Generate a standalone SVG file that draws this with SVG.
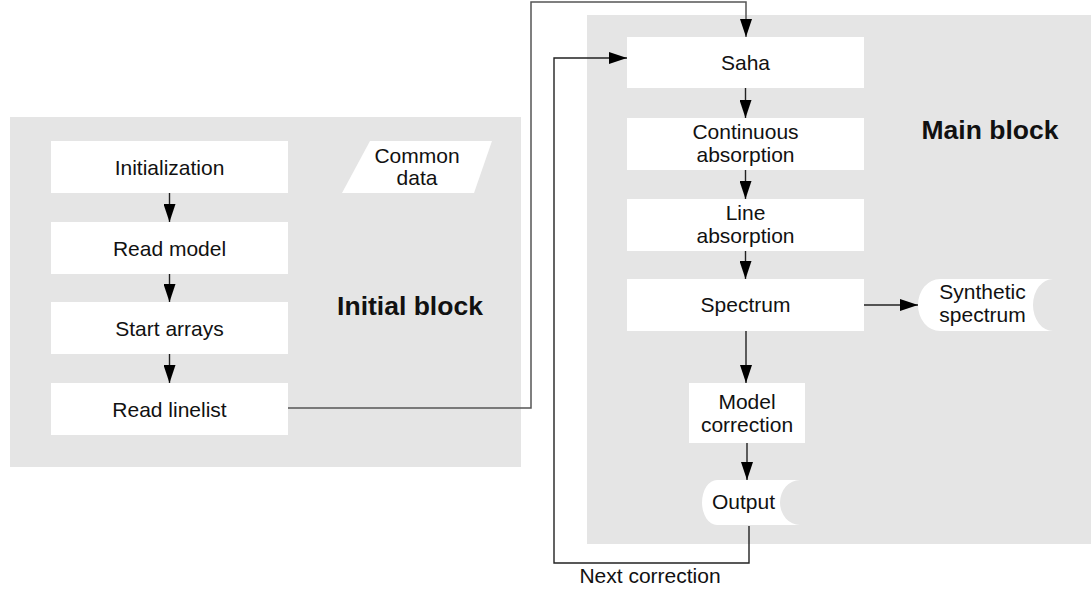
<svg xmlns="http://www.w3.org/2000/svg" width="1091" height="592" viewBox="0 0 1091 592">
<style>
.blk{fill:#e5e5e5;stroke:none}
.box{fill:#ffffff;stroke:none}
.t{font-family:"Liberation Sans",Arial,sans-serif;font-size:21px;fill:#111;text-anchor:middle}
.tb{font-family:"Liberation Sans",Arial,sans-serif;font-size:26.5px;font-weight:bold;fill:#111;text-anchor:middle}
.c{fill:none;stroke:#222;stroke-width:1.4}
.cg{fill:none;stroke:#555;stroke-width:1.5}
</style>
<defs>
<marker id="ah" markerUnits="userSpaceOnUse" markerWidth="18" markerHeight="12" refX="18" refY="6" orient="auto">
<path d="M0,0 L18,6 L0,12 Z" fill="#000"/>
</marker>
</defs>
<g id="initial-block">
<rect class="blk" x="10" y="117" width="511" height="350"/>
<text class="tb" x="410" y="315">Initial block</text>
</g>
<g id="main-block">
<rect class="blk" x="587" y="15" width="504" height="529"/>
<text class="tb" x="990" y="139">Main block</text>
</g>
<g id="connectors">
<path class="cg" d="M288,408 H531 V2 H746 V37" marker-end="url(#ah)"/>
<path class="c" d="M749,526 V563 H554 V58 H627" marker-end="url(#ah)"/>
<path class="c" d="M169.5,193 V222" marker-end="url(#ah)"/>
<path class="c" d="M169.5,274 V302" marker-end="url(#ah)"/>
<path class="c" d="M169.5,354 V383" marker-end="url(#ah)"/>
<path class="c" d="M745.5,88 V118" marker-end="url(#ah)"/>
<path class="c" d="M745.5,170 V199" marker-end="url(#ah)"/>
<path class="c" d="M745.5,251 V279" marker-end="url(#ah)"/>
<path class="c" d="M746,331 V383" marker-end="url(#ah)"/>
<path class="c" d="M747,443 V480" marker-end="url(#ah)"/>
<path class="c" d="M864,305 H918" marker-end="url(#ah)"/>
</g>
<g id="initialization">
<rect class="box" x="51" y="141" width="237" height="52"/>
<text class="t" x="169.5" y="174.5">Initialization</text>
</g>
<g id="read-model">
<rect class="box" x="51" y="222" width="237" height="52"/>
<text class="t" x="169.5" y="255.5">Read model</text>
</g>
<g id="start-arrays">
<rect class="box" x="51" y="302" width="237" height="52"/>
<text class="t" x="169.5" y="335.5">Start arrays</text>
</g>
<g id="read-linelist">
<rect class="box" x="51" y="383" width="237" height="52"/>
<text class="t" x="169.5" y="416.5">Read linelist</text>
</g>
<g id="common-data">
<polygon class="box" points="370,141 492,141 474,193 342,193"/>
<text class="t" x="417" y="163">Common</text>
<text class="t" x="417" y="185">data</text>
</g>
<g id="saha">
<rect class="box" x="627" y="37" width="237" height="51"/>
<text class="t" x="745.5" y="70">Saha</text>
</g>
<g id="continuous-absorption">
<rect class="box" x="627" y="118" width="237" height="52"/>
<text class="t" x="745.5" y="138.5">Continuous</text>
<text class="t" x="745.5" y="162">absorption</text>
</g>
<g id="line-absorption">
<rect class="box" x="627" y="199" width="237" height="52"/>
<text class="t" x="745.5" y="219.5">Line</text>
<text class="t" x="745.5" y="243">absorption</text>
</g>
<g id="spectrum">
<rect class="box" x="627" y="279" width="237" height="52"/>
<text class="t" x="745.5" y="312">Spectrum</text>
</g>
<g id="synthetic-spectrum">
<path class="box" d="M940,279 A22,26 0 0 0 940,331 L1053,331 A20,26 0 0 1 1053,279 Z"/>
<text class="t" x="982.5" y="299">Synthetic</text>
<text class="t" x="982.5" y="322">spectrum</text>
</g>
<g id="model-correction">
<rect class="box" x="689" y="383" width="116" height="60"/>
<text class="t" x="747" y="409">Model</text>
<text class="t" x="747" y="432">correction</text>
</g>
<g id="output">
<path class="box" d="M717,480 A15,22.5 0 0 0 717,525 L800,525 A20,22.5 0 0 1 800,480 Z"/>
<text class="t" x="743.5" y="509">Output</text>
</g>
<g id="next-correction-label">
<text class="t" x="650" y="583">Next correction</text>
</g>
</svg>
